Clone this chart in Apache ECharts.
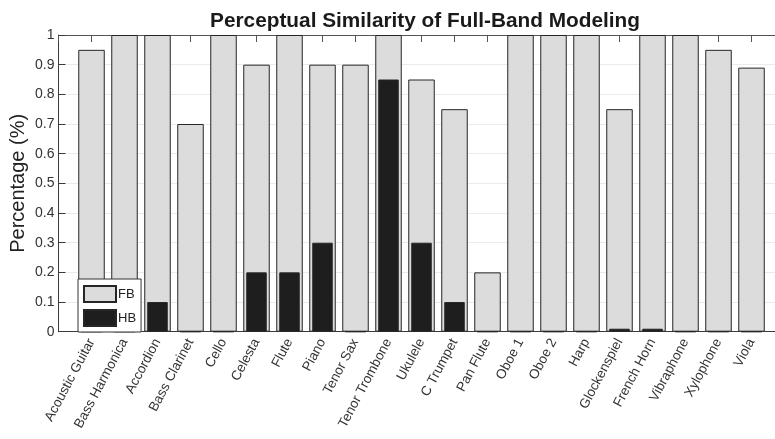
<!DOCTYPE html>
<html>
<head>
<meta charset="utf-8">
<script src="https://cdn.jsdelivr.net/npm/echarts@6/dist/echarts.min.js"></script>
<style>
html, body { margin: 0; padding: 0; background: #fff; }
#chart { width: 775px; height: 439px; }
</style>
</head>
<body>
<div id="chart"></div>
<script>
// instruments, in plot order
var categories = ['Acoustic Guitar', 'Bass Harmonica', 'Accordion', 'Bass Clarinet', 'Cello',
	'Celesta', 'Flute', 'Piano', 'Tenor Sax', 'Tenor Trombone', 'Ukulele', 'C Trumpet',
	'Pan Flute', 'Oboe 1', 'Oboe 2', 'Harp', 'Glockenspiel', 'French Horn', 'Vibraphone',
	'Xylophone', 'Viola'];
// full-band
var fbValues = [0.95, 1, 1, 0.7, 1, 0.9, 1, 0.9, 0.9, 1, 0.85, 0.75, 0.2, 1, 1, 1, 0.75, 1, 1, 0.95, 0.89];
// half-band
var hbValues = [0, 0, 0.1, 0, 0, 0.2, 0.2, 0.3, 0, 0.85, 0.3, 0.1, 0, 0, 0, 0, 0.01, 0.01, 0, 0, 0];

function toPoints(vals) {
	var out = [];
	for (var i = 0; i < vals.length; i++) {
		out.push([i + 1, vals[i]]);
	}
	return out;
}

var axisColor = '#3a3a3a';
var font = 'Liberation Sans, Arial, Helvetica, sans-serif';

var chart = echarts.init(document.getElementById('chart'), null, { renderer: 'canvas' });
chart.setOption({
	backgroundColor: '#fff',
	animation: false,
	title: {
		text: 'Perceptual Similarity of Full-Band Modeling',
		left: 420,
		top: 6,
		textAlign: 'center',
		textStyle: { fontFamily: font, fontSize: 20.8, fontWeight: 'bold', color: '#1a1a1a' }
	},
	legend: {
		orient: 'vertical',
		left: 78,
		top: 279,
		padding: [6, 5, 5, 5],
		itemGap: 6,
		itemWidth: 32,
		itemHeight: 16,
		backgroundColor: '#fff',
		borderColor: '#333',
		borderWidth: 1,
		borderRadius: 0,
		textStyle: { fontFamily: font, fontSize: 13, color: '#222', padding: [0, 0, 0, -3] },
		data: [{ name: 'FB', icon: 'rect' }, { name: 'HB', icon: 'rect' }]
	},
	grid: { left: 58.5, top: 35, width: 726, height: 296.7, containLabel: false, outerBoundsMode: 'none' },
	xAxis: [{
		type: 'value',
		min: 0, max: 22, interval: 1,
		position: 'bottom',
		axisLine: { show: true, lineStyle: { color: axisColor, width: 1 } },
		axisTick: { show: false },
		splitLine: { show: false },
		axisLabel: {
			rotate: 62,
			margin: 8,
			fontFamily: font,
			fontSize: 13.5,
			color: '#333',
			formatter: function (v) {
				return (v >= 1 && v <= categories.length) ? categories[v - 1] : '';
			}
		}
	}, {
		type: 'value',
		min: 0, max: 22, interval: 1,
		position: 'top',
		axisLine: { show: true, lineStyle: { color: '#555', width: 1 } },
		axisTick: { show: true, inside: true, length: 7, lineStyle: { color: '#555' } },
		axisLabel: { show: false },
		splitLine: { show: false }
	}],
	yAxis: {
		type: 'value',
		min: 0, max: 1, interval: 0.1,
		name: 'Percentage (%)',
		nameLocation: 'middle',
		nameGap: 30,
		nameMoveOverlap: false,
		nameTextStyle: { fontFamily: font, fontSize: 20, color: '#222' },
		axisLine: { show: true, lineStyle: { color: axisColor, width: 1 } },
		axisTick: { show: true, inside: true, length: 7, lineStyle: { color: axisColor } },
		axisLabel: { fontFamily: font, fontSize: 14, color: '#333', margin: 4 },
		splitLine: { show: true, lineStyle: { color: '#ebebeb', width: 1 } }
	},
	series: [{
		name: 'FB',
		type: 'bar',
		xAxisIndex: 0,
		barWidth: 26.5,
		itemStyle: { color: '#dcdcdc', borderColor: '#262626', borderWidth: 1 },
		data: toPoints(fbValues)
	}, {
		name: 'HB',
		type: 'bar',
		xAxisIndex: 1,
		barWidth: 20.5,
		itemStyle: { color: '#1e1e1e', borderColor: '#262626', borderWidth: 1 },
		data: toPoints(hbValues)
	}]
});
</script>
</body>
</html>
